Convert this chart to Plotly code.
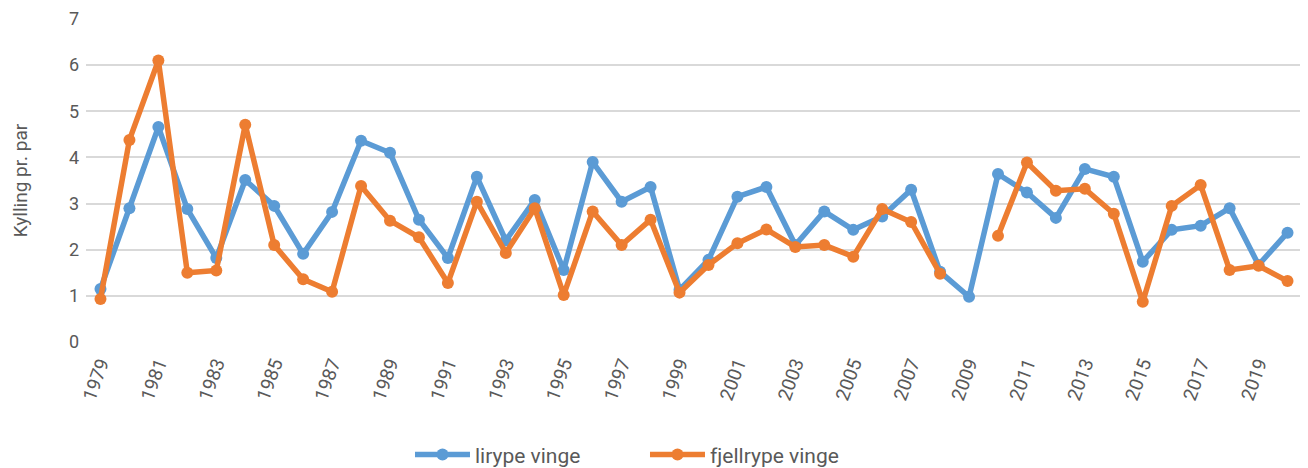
import plotly.graph_objects as go

years = list(range(1979, 2021))

lirype = [1.15, 2.9, 4.66, 2.88, 1.82, 3.51, 2.95, 1.91, 2.82, 4.36,
          4.1, 2.65, 1.82, 3.58, 2.2, 3.08, 1.56, 3.9, 3.04, 3.36,
          1.13, 1.78, 3.15, 3.36, 2.1, 2.83, 2.43, 2.72, 3.3, 1.52,
          0.98, 3.64, 3.24, 2.69, 3.75, 3.58, 1.74, 2.43, 2.52, 2.9,
          1.67, 2.37]

fjellrype = [0.93, 4.38, 6.1, 1.5, 1.55, 4.71, 2.1, 1.36, 1.09, 3.38,
             2.63, 2.27, 1.28, 3.04, 1.93, 2.9, 1.02, 2.83, 2.1, 2.65,
             1.07, 1.67, 2.14, 2.44, 2.06, 2.1, 1.85, 2.88, 2.6, 1.48,
             None, 2.3, 3.89, 3.28, 3.32, 2.78, 0.87, 2.95, 3.4, 1.56,
             1.65, 1.32]

tick_years = years[::2]

fig = go.Figure()

fig.add_trace(go.Scatter(
    x=years, y=lirype, name='lirype vinge',
    mode='lines+markers',
    line=dict(color='#5B9BD5', width=5.5),
    marker=dict(color='#5B9BD5', size=12),
))
fig.add_trace(go.Scatter(
    x=years, y=fjellrype, name='fjellrype vinge',
    mode='lines+markers',
    line=dict(color='#ED7D31', width=5.5),
    marker=dict(color='#ED7D31', size=12),
    connectgaps=False,
))

# the page adds an 8px body margin, so margins are shifted to compensate
fig.update_layout(
    width=1308, height=468,
    margin=dict(l=78, r=14, t=11, b=134, autoexpand=False),
    plot_bgcolor='white', paper_bgcolor='white',
    font=dict(family='Roboto, Liberation Sans, sans-serif', size=18, color='#595959'),
    legend=dict(orientation='h', xref='container', x=0.487, xanchor='center',
                yref='container', y=0.045, yanchor='middle',
                entrywidth=165, itemwidth=55,
                font=dict(size=21, color='#595959')),
    xaxis=dict(
        range=[1978.5, 2020.5], automargin=False,
        tickmode='array', tickvals=tick_years,
        ticktext=[str(y) for y in tick_years],
        tickangle=-70, showgrid=False, zeroline=False,
        showline=False, ticks='', ticklabelstandoff=6,
        tickfont=dict(size=19, color='#595959'),
    ),
    yaxis=dict(
        range=[0, 7], dtick=1, automargin=False,
        showgrid=True, gridcolor='#D9D9D9', gridwidth=1.5,
        zeroline=False, showline=False, ticklabelstandoff=6,
        title=dict(text='Kylling pr. par', font=dict(size=19, color='#595959'), standoff=36),
        tickfont=dict(size=18, color='#595959'),
    ),
)

fig.write_html("out.html")
